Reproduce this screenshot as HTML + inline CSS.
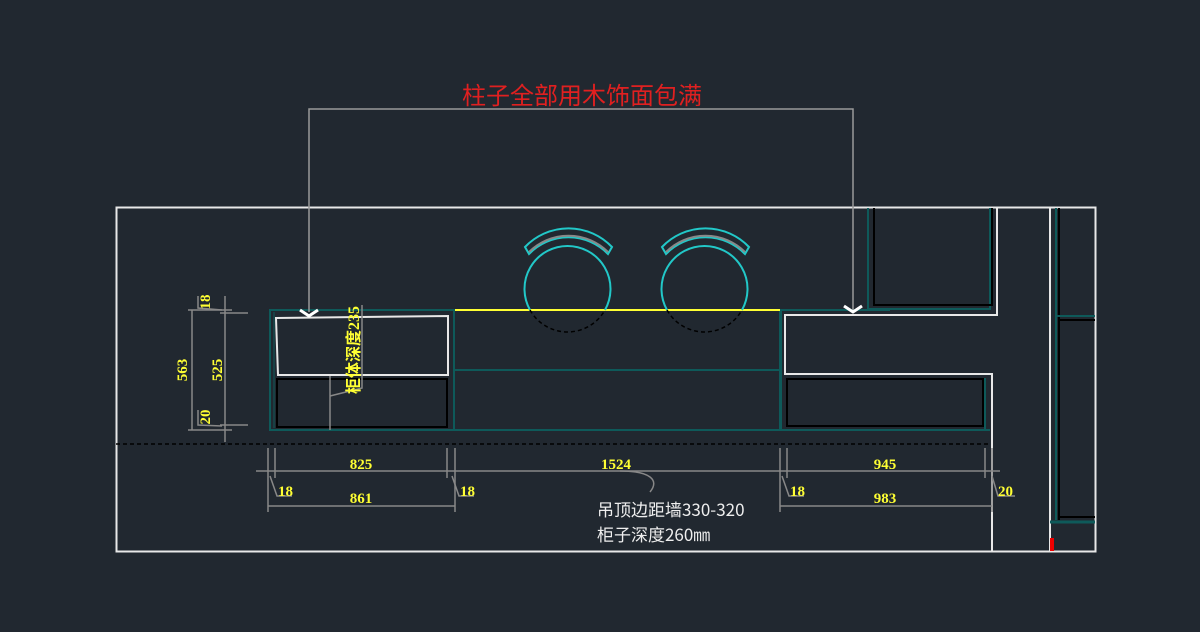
<!DOCTYPE html>
<html><head><meta charset="utf-8"><style>
body{margin:0;background:#212830;}
svg{display:block}
text{font-family:"Liberation Sans","Noto Sans CJK SC",sans-serif}
.y{fill:#ffff33;font-size:15px;font-family:"Liberation Serif","Noto Sans CJK SC",serif;font-weight:bold}
</style></head><body>
<svg width="1200" height="632" viewBox="0 0 1200 632">
<rect width="1200" height="632" fill="#212830"/>
<rect x="116.5" y="207.5" width="979" height="344" fill="none" stroke="#e8e8e8" stroke-width="2"/>
<line x1="1050" y1="207" x2="1050" y2="551" stroke="#e8e8e8" stroke-width="2"/>
<line x1="1056" y1="208" x2="1056" y2="520" stroke="#0e5a5a" stroke-width="2"/>
<line x1="1059" y1="208" x2="1059" y2="520" stroke="#000" stroke-width="2"/>
<line x1="1056" y1="316" x2="1095" y2="316" stroke="#0e5a5a" stroke-width="2"/>
<line x1="1059" y1="320" x2="1095" y2="320" stroke="#000" stroke-width="2"/>
<line x1="1050" y1="522" x2="1095" y2="522" stroke="#0e5a5a" stroke-width="3"/>
<line x1="1059" y1="517" x2="1095" y2="517" stroke="#000" stroke-width="2"/>
<rect x="1050" y="538" width="4" height="13" fill="#e00"/>
<polyline points="868,208 868,309 990,309 990,208" fill="none" stroke="#0e5a5a" stroke-width="2"/>
<polyline points="874,208 874,305 992,305 992,208" fill="none" stroke="#000" stroke-width="2"/>
<polyline points="997,207 997,315 785,315 785,374 992,374 992,551" fill="none" stroke="#e8e8e8" stroke-width="2"/>
<polyline points="781,310 781,430 990,430" fill="none" stroke="#0e5a5a" stroke-width="2"/>
<line x1="781" y1="310" x2="890" y2="310" stroke="#0e5a5a" stroke-width="2"/>
<rect x="787" y="379" width="196" height="47" fill="none" stroke="#000" stroke-width="2"/>
<line x1="985" y1="378" x2="985" y2="430" stroke="#0e5a5a" stroke-width="2"/>
<rect x="270" y="310" width="184" height="120" fill="none" stroke="#0e5a5a" stroke-width="2"/>
<polygon points="276,318 448,316 448,375 278,375" fill="none" stroke="#e8e8e8" stroke-width="2"/>
<rect x="277" y="379" width="170" height="48" fill="none" stroke="#000" stroke-width="2"/>
<line x1="274" y1="312" x2="274" y2="428" stroke="#0e5a5a" stroke-width="1"/>
<rect x="454" y="310" width="326" height="120" fill="none" stroke="#0e5a5a" stroke-width="2"/>
<line x1="454" y1="370" x2="780" y2="370" stroke="#0e5a5a" stroke-width="2"/>
<line x1="455" y1="310" x2="780" y2="310" stroke="#ffff33" stroke-width="2"/>
<g fill="none" stroke="#22c8c8" stroke-width="2">
<path d="M530,310 A43,43 0 1 1 605,310"/>
<path d="M667,310 A43,43 0 1 1 742,310"/>
<path d="M525,247 A60,60 0 0 1 612,247 L608,254 A55,55 0 0 0 529,254 Z"/>
<path d="M662,247 A60,60 0 0 1 749,247 L745,254 A55,55 0 0 0 666,254 Z"/>
</g>
<g fill="none" stroke="#888" stroke-width="2">
<path d="M529,252 A56,56 0 0 1 608,252"/>
<path d="M666,252 A56,56 0 0 1 745,252"/>
</g>
<g fill="none" stroke="#000" stroke-width="1.5" stroke-dasharray="4,3">
<path d="M530,310 A43,43 0 0 0 605,310"/>
<path d="M667,310 A43,43 0 0 0 742,310"/>
</g>
<line x1="116" y1="444" x2="990" y2="444" stroke="#000" stroke-width="1.5" stroke-dasharray="4,3"/>
<polyline points="309,312 309,109 853,109 853,312" fill="none" stroke="#999" stroke-width="1.5"/>
<polyline points="300,310 309,316 318,310" fill="none" stroke="#fff" stroke-width="3"/>
<polyline points="844,306 853,312 862,306" fill="none" stroke="#fff" stroke-width="3"/>
<text x="582" y="104" fill="#e02020" font-size="24" text-anchor="middle" style="font-family:'Noto Sans CJK SC',sans-serif">柱子全部用木饰面包满</text>
<g stroke="#888" stroke-width="1.5" fill="none">
<line x1="192" y1="310" x2="192" y2="430"/>
<line x1="188" y1="310" x2="232" y2="310"/>
<line x1="188" y1="430" x2="232" y2="430"/>
<line x1="225" y1="296" x2="225" y2="442"/>
<line x1="220" y1="313" x2="248" y2="313"/>
<line x1="220" y1="425" x2="248" y2="425"/>
<polyline points="198,296 198,308 222,310"/>
<polyline points="198,410 198,425 222,426"/>
<polyline points="330,430 330,376"/>
<polyline points="330,396 362,388 362,305"/>
</g>
<text class="y" transform="translate(187,370) rotate(-90)" text-anchor="middle">563</text>
<text class="y" transform="translate(222,370) rotate(-90)" text-anchor="middle">525</text>
<text class="y" transform="translate(210,302) rotate(-90)" text-anchor="middle">18</text>
<text class="y" transform="translate(210,417) rotate(-90)" text-anchor="middle">20</text>
<text class="y" transform="translate(359,350) rotate(-90)" text-anchor="middle" style="font-size:16px">柜体深度235</text>
<g stroke="#888" stroke-width="1.5" fill="none">
<line x1="256" y1="471" x2="1000" y2="471"/>
<line x1="268" y1="506" x2="455" y2="506"/>
<line x1="780" y1="506" x2="992" y2="506"/>
<line x1="268" y1="448" x2="268" y2="512"/><line x1="275" y1="448" x2="275" y2="478"/>
<line x1="447" y1="448" x2="447" y2="478"/><line x1="455" y1="448" x2="455" y2="512"/>
<line x1="780" y1="448" x2="780" y2="512"/><line x1="787" y1="448" x2="787" y2="478"/>
<line x1="985" y1="448" x2="985" y2="478"/><line x1="992" y1="448" x2="992" y2="512"/>
<polyline points="270,476 277,496 292,496"/>
<polyline points="452,476 459,496 474,496"/>
<polyline points="782,476 789,496 804,496"/>
<polyline points="992,476 998,496 1015,496"/>
<path d="M620,471 C650,471 660,480 650,492"/>
</g>
<text class="y" x="361" y="469" text-anchor="middle">825</text>
<text class="y" x="361" y="503" text-anchor="middle">861</text>
<text class="y" x="616" y="469" text-anchor="middle">1524</text>
<text class="y" x="885" y="469" text-anchor="middle">945</text>
<text class="y" x="885" y="503" text-anchor="middle">983</text>
<text class="y" x="278" y="496">18</text>
<text class="y" x="460" y="496">18</text>
<text class="y" x="790" y="496">18</text>
<text class="y" x="998" y="496">20</text>
<text x="597" y="516" fill="#eee" font-size="17" style="font-family:'Noto Sans CJK SC',sans-serif">吊顶边距墙330-320</text>
<text x="597" y="541" fill="#eee" font-size="17" style="font-family:'Noto Sans CJK SC',sans-serif">柜子深度260㎜</text>
</svg>
</body></html>
